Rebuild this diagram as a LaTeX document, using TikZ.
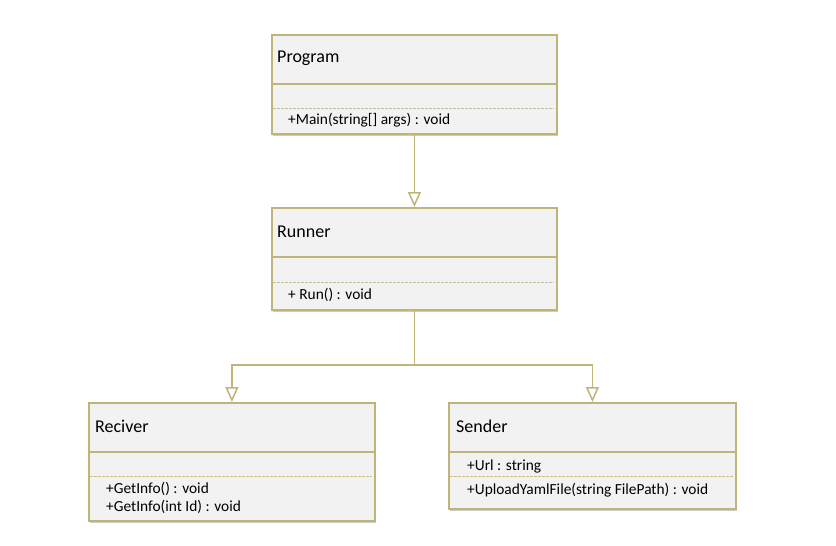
\documentclass[tikz,border=0pt]{standalone}
\usepackage{fontspec}
\setmainfont{Carlito}
\usetikzlibrary{arrows.meta,shadows}
\definecolor{olive}{RGB}{190,181,122}
\definecolor{boxfill}{RGB}{242,242,242}
\definecolor{dashc}{RGB}{200,190,140}
\tikzset{
  umlbox/.style={draw=olive, line width=1.8pt, fill=boxfill, anchor=north west, inner sep=0pt,
    drop shadow={shadow xshift=1.5pt, shadow yshift=-2.5pt, opacity=0.35, fill=black!60}},
  sepline/.style={draw=olive, line width=1.6pt},
  dashline/.style={draw=dashc, line width=0.9pt, dash pattern=on 2.5pt off 1.5pt},
  title/.style={anchor=west, inner sep=0pt, font=\fontsize{18}{20}\selectfont},
  member/.style={anchor=base west, inner sep=0pt, font=\fontsize{15.4}{17}\selectfont},
  conn/.style={draw=olive, line width=1.7pt, -{Triangle[open, width=13pt, length=15pt, line width=1.5pt]}}
}
\begin{document}
\begin{tikzpicture}[x=1pt,y=-1pt]
\useasboundingbox (0,0) rectangle (836,546);
% Program
\node[umlbox, minimum width=285pt, minimum height=99pt] (prog) at (271,34) {};
\draw[sepline] (271,84) -- (556,84);
\draw[dashline] (273,108) -- (554,108);
\node[title] (progT) at (277,58) {Program};
\node[member] (progM) at (288,124) {+Main(string[] args) : void};
% Runner
\node[umlbox, minimum width=285pt, minimum height=102pt] (run) at (271,207) {};
\draw[sepline] (271,257) -- (556,257);
\draw[dashline] (273,282) -- (554,282);
\node[title] (runT) at (277,232) {Runner};
\node[member] (runM) at (288,299) {+ Run() : void};
% Reciver
\node[umlbox, minimum width=286pt, minimum height=118pt] (rec) at (88,402) {};
\draw[sepline] (88,452) -- (374,452);
\draw[dashline] (90,476) -- (372,476);
\node[title] (recT) at (95,426) {Reciver};
\node[member] (recM1) at (106,493) {+GetInfo() : void};
\node[member] (recM2) at (106,511) {+GetInfo(int Id) : void};
% Sender
\node[umlbox, minimum width=287pt, minimum height=106pt] (snd) at (448,402) {};
\draw[sepline] (448,452) -- (735,452);
\draw[dashline] (450,476) -- (733,476);
\node[title] (sndT) at (456,426) {Sender};
\node[member] (sndM1) at (467,470) {+Url : string};
\node[member] (sndM2) at (467,494) {+UploadYamlFile(string FilePath) : void};
% connectors
\draw[conn] (prog.south) -- (run.north);
\draw[conn] (run.south) -- ++(0,54) -| (rec.north);
\draw[conn] (run.south) -- ++(0,54) -| (snd.north);
\end{tikzpicture}
\end{document}
